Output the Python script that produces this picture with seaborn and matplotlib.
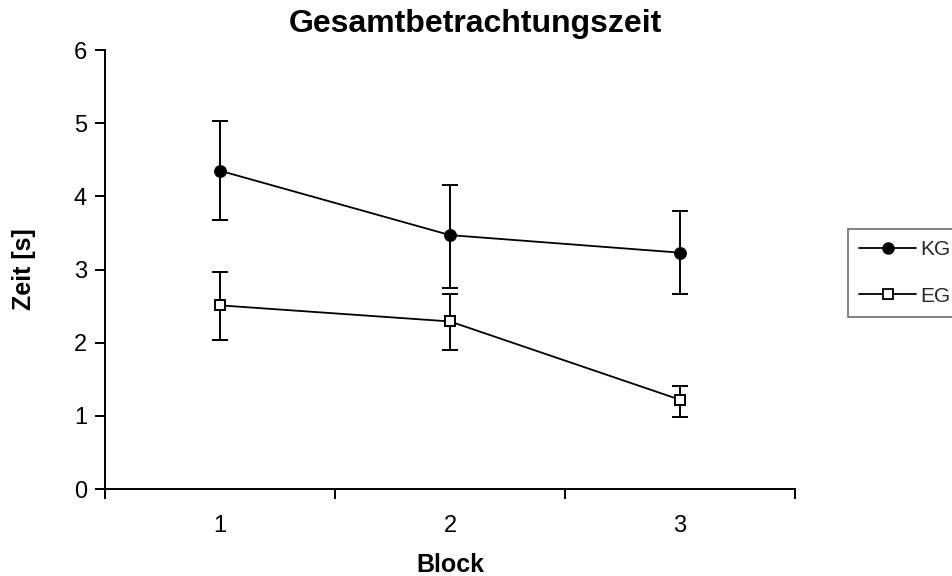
import matplotlib
matplotlib.use("Agg")
import matplotlib.pyplot as plt
import seaborn as sns
import pandas as pd
import numpy as np
from matplotlib.lines import Line2D

blocks = ["1", "2", "3"]
kg_mean = [4.35, 3.47, 3.23]
kg_upper = [5.03, 4.15, 3.80]
kg_lower = [3.68, 2.75, 2.66]
eg_mean = [2.51, 2.29, 1.22]
eg_upper = [2.96, 2.66, 1.41]
eg_lower = [2.04, 1.90, 0.99]

sns.set_theme(style="white")
plt.rcParams['font.family'] = ['Liberation Sans', 'DejaVu Sans']

fig = plt.figure(figsize=(9.52, 5.76), dpi=100)
ax = fig.add_axes([105/952, 1-489/576, 690/952, 439/576])

pos = np.arange(len(blocks))
df = pd.DataFrame({
    "pos": np.concatenate([pos, pos]),
    "Zeit": kg_mean + eg_mean,
    "Gruppe": ["KG"]*3 + ["EG"]*3,
})

sns.lineplot(data=df, x="pos", y="Zeit", hue="Gruppe", style="Gruppe",
             palette={"KG": "black", "EG": "black"},
             markers={"KG": "o", "EG": "s"}, dashes=False,
             markersize=8.5, linewidth=1.3, ax=ax, legend=False, zorder=3)
lines = ax.get_lines()
lines[0].set_markerfacecolor("black"); lines[0].set_markeredgecolor("black")
lines[1].set_markerfacecolor("white"); lines[1].set_markeredgecolor("black")
lines[1].set_markersize(7.5); lines[1].set_markeredgewidth(1.4)

for mean, lo, hi in [(kg_mean, kg_lower, kg_upper), (eg_mean, eg_lower, eg_upper)]:
    m = np.array(mean)
    yerr = np.vstack([m - np.array(lo), np.array(hi) - m])
    ax.errorbar(pos, m, yerr=yerr, fmt="none", ecolor="black",
                elinewidth=1.4, capsize=5.5, capthick=1.4, zorder=2)

h1 = Line2D([], [], color="black", marker="o", markersize=8, lw=1.3,
            markerfacecolor="black")
h2 = Line2D([], [], color="black", marker="s", markersize=7, lw=1.3,
            markerfacecolor="white", markeredgewidth=1.3)
leg = fig.legend([h1, h2], ["KG", "EG"], loc="upper left",
                 bbox_to_anchor=(848/952, 1-229/576), fontsize=15,
                 frameon=True, fancybox=False, borderaxespad=0,
                 handlelength=2.7, handletextpad=0.2, borderpad=0.55,
                 labelspacing=1.3)
leg.get_frame().set_edgecolor("#555555")
leg.get_frame().set_linewidth(1.3)

ax.set_xlim(-0.5, 2.5)
ax.set_ylim(0, 6)
ax.set_yticks(range(0, 7))
ax.set_xticks(pos)
ax.set_xticklabels(blocks)
ax.set_xticks([-0.5, 0.5, 1.5, 2.5], minor=True)
ax.tick_params(axis="x", which="major", length=0, labelsize=17, pad=19,
               labelcolor="black")
ax.tick_params(axis="x", which="minor", length=7, width=1.4, direction="out",
               bottom=True, color="black")
ax.tick_params(axis="y", length=7, width=1.4, direction="out", left=True,
               labelsize=17, color="black", pad=6, labelcolor="black")
for s in ["top", "right"]:
    ax.spines[s].set_visible(False)
for s in ["left", "bottom"]:
    ax.spines[s].set_color("black")
    ax.spines[s].set_linewidth(1.4)

ax.set_xlabel("Block", fontsize=18, fontweight="bold", labelpad=11,
              color="black")
ax.set_ylabel("Zeit [s]", fontsize=18, fontweight="bold", labelpad=27,
              color="black")
fig.text(475/952, 1-24/576, "Gesamtbetrachtungszeit", fontsize=23,
         fontweight="bold", color="black", ha="center", va="center")

fig.savefig("out.png", dpi=100)
